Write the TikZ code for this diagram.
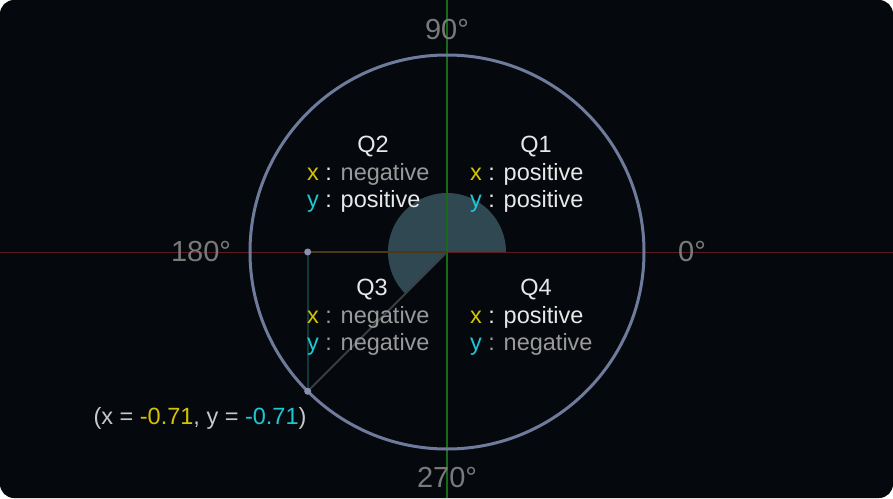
\documentclass[tikz,border=0pt]{standalone}
\usepackage{fontspec}
\setmainfont{Liberation Sans}
\usepackage{xcolor}
\usetikzlibrary{calc}

\definecolor{bgdark}{HTML}{05080D}
\definecolor{ringcol}{HTML}{6E7B9A}
\definecolor{axisred}{HTML}{5C1A1E}
\definecolor{axisgreen}{HTML}{186A18}
\definecolor{sectorcol}{HTML}{2F4852}
\definecolor{radialcol}{HTML}{3A3F44}
\definecolor{projx}{HTML}{4A3A12}
\definecolor{projy}{HTML}{0F3A3A}
\definecolor{dotcol}{HTML}{8A8FB0}
\definecolor{degcol}{HTML}{7A7A7A}
\definecolor{xcol}{HTML}{D4C400}
\definecolor{ycol}{HTML}{1CC8D4}
\definecolor{poscol}{HTML}{E8E8E8}
\definecolor{negcol}{HTML}{9A9A9A}
\definecolor{labcol}{HTML}{C8C8C8}

\newcommand{\xl}{\textcolor{xcol}{x}}
\newcommand{\yl}{\textcolor{ycol}{y}}

\begin{document}
\begin{tikzpicture}[x=1pt, y=1pt,
  deglabel/.style={text=degcol, inner sep=0pt, font=\fontsize{29}{34}\selectfont},
  qlabel/.style={text=poscol, inner sep=0pt, font=\fontsize{23.5}{28}\selectfont},
  signline/.style={anchor=west, inner sep=0pt, font=\fontsize{23.5}{28}\selectfont},
  dotmark/.style={circle, fill=dotcol, inner sep=0pt, minimum size=7pt}]
  % background
  \fill[white] (-447,-246) rectangle (446,252);
  \fill[bgdark, rounded corners=14pt] (-447,-246) rectangle (446,252);
  \useasboundingbox (-447,-246) rectangle (446,252);
  \coordinate (O) at (0,0);
  \coordinate (P) at (225:197);
  \coordinate (Px) at (P |- O);
  % angle sector
  \fill[sectorcol] (O) -- (59,0) arc[start angle=0, end angle=225, radius=59] -- cycle;
  % axes
  \draw[axisred, line width=1pt] (-447,0) -- (446,0);
  \draw[axisgreen, line width=1.2pt] (0,-246) -- (0,252);
  % unit circle
  \draw[ringcol, line width=3pt] (O) circle[radius=197];
  % projections and radius
  \draw[projx, line width=2pt] (Px) -- (O);
  \draw[projy, line width=2pt] (Px) -- (P);
  \draw[radialcol, line width=2pt] (O) -- (P);
  \node[dotmark] (dx) at (Px) {};
  \node[dotmark] (dp) at (P) {};
  % angle labels
  \node[deglabel] (d90) at (0,222) {90°};
  \node[deglabel] (d270) at (0,-226) {270°};
  \node[deglabel] (d180) at (-246,0) {180°};
  \node[deglabel] (d0) at (245,0) {0°};
  % quadrants
  \node[qlabel] (q2) at (-74,105) {Q2};
  \node[signline] (q2x) at (-140,78) {\xl\textcolor{poscol}{\ : }\textcolor{negcol}{negative}};
  \node[signline] (q2y) at (-140,51) {\yl\textcolor{poscol}{\ : positive}};
  \node[qlabel] (q1) at (89,105) {Q1};
  \node[signline] (q1x) at (23,78) {\xl\textcolor{poscol}{\ : positive}};
  \node[signline] (q1y) at (23,51) {\yl\textcolor{poscol}{\ : positive}};
  \node[qlabel] (q3) at (-75,-38) {Q3};
  \node[signline] (q3x) at (-140,-65) {\xl\textcolor{negcol}{\ : negative}};
  \node[signline] (q3y) at (-140,-92) {\yl\textcolor{negcol}{\ : negative}};
  \node[qlabel] (q4) at (89,-38) {Q4};
  \node[signline] (q4x) at (23,-65) {\xl\textcolor{poscol}{\ : positive}};
  \node[signline] (q4y) at (23,-92) {\yl\textcolor{negcol}{\ : negative}};
  % point label
  \node[qlabel, text=labcol] (pl) at (-247,-166)
    {(x = \textcolor{xcol}{-0.71}, y = \textcolor{ycol}{-0.71})};
\end{tikzpicture}
\end{document}
